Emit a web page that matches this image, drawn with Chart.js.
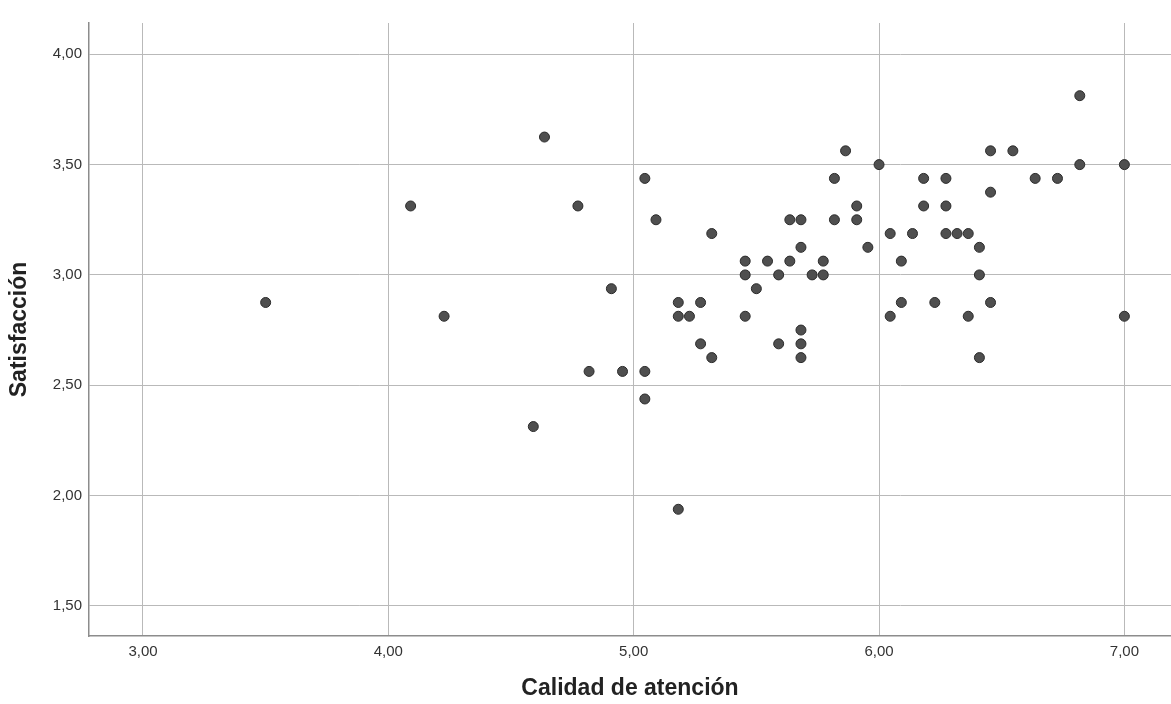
<!DOCTYPE html>
<html>
<head>
<meta charset="utf-8">
<script src="https://cdn.jsdelivr.net/npm/chart.js@4/dist/chart.umd.min.js"></script>
<style>
  html, body { margin: 0; padding: 0; background: #ffffff; }
  #wrap { width: 1171px; height: 704px; }
</style>
</head>
<body>
<div id="wrap"><canvas id="chart_scatter" width="1171" height="704"></canvas></div>
<script>
// Calidad de atención (x) / Satisfacción (y), one entry per respondent
const calidad = [
    3.5, 4.0909, 4.2273, 4.5909, 4.6364, 4.7727, 4.8182, 4.9091, 4.9545,
    5.0455, 5.0455, 5.0455, 5.0909, 5.1818, 5.1818, 5.1818, 5.2273, 5.2727,
    5.2727, 5.3182, 5.3182, 5.4545, 5.4545, 5.4545, 5.5, 5.5455, 5.5909,
    5.5909, 5.6364, 5.6364, 5.6818, 5.6818, 5.6818, 5.6818, 5.6818, 5.7273,
    5.7727, 5.7727, 5.8182, 5.8182, 5.8636, 5.9091, 5.9091, 5.9545, 6.0,
    6.0455, 6.0455, 6.0909, 6.0909, 6.1364, 6.1818, 6.1818, 6.2273, 6.2727,
    6.2727, 6.2727, 6.3182, 6.3636, 6.3636, 6.4091, 6.4091, 6.4091, 6.4545,
    6.4545, 6.4545, 6.5455, 6.6364, 6.7273, 6.8182, 6.8182, 7.0, 7.0
];
const satisfaccion = [
    2.875, 3.3125, 2.8125, 2.3125, 3.625, 3.3125, 2.5625, 2.9375, 2.5625,
    3.4375, 2.5625, 2.4375, 3.25, 2.875, 2.8125, 1.9375, 2.8125, 2.875,
    2.6875, 3.1875, 2.625, 3.0625, 3.0, 2.8125, 2.9375, 3.0625, 3.0,
    2.6875, 3.25, 3.0625, 3.25, 3.125, 2.75, 2.6875, 2.625, 3.0,
    3.0625, 3.0, 3.4375, 3.25, 3.5625, 3.3125, 3.25, 3.125, 3.5,
    3.1875, 2.8125, 3.0625, 2.875, 3.1875, 3.4375, 3.3125, 2.875, 3.4375,
    3.3125, 3.1875, 3.1875, 3.1875, 2.8125, 3.125, 3.0, 2.625, 3.5625,
    3.375, 2.875, 3.5625, 3.4375, 3.4375, 3.8125, 3.5, 3.5, 2.8125
];
const xTicks = [3, 4, 5, 6, 7];
const yTicks = [1.5, 2, 2.5, 3, 3.5, 4];

const gridColor = '#b9b9b9';
const axisColor = '#8c8c8c';
const textColor = '#333333';

const fmt = (v) => v.toFixed(2).replace('.', ',');

const points = calidad.map((x, i) => ({x: x, y: satisfaccion[i]}));

new Chart(document.getElementById('chart_scatter'), {
    type: 'scatter',
    data: {
        datasets: [{
            label: 'Satisfacción',
            data: points,
            pointRadius: 5,
            pointHoverRadius: 5,
            backgroundColor: '#4f4f4f',
            borderColor: '#2b2b2b',
            borderWidth: 1,
        }],
    },
    options: {
        responsive: false,
        animation: false,
        layout: {
            autoPadding: false,
            padding: {top: 23, right: 0, bottom: 0, left: 0},
        },
        plugins: {
            legend: {display: false},
            tooltip: {enabled: false},
        },
        scales: {
            x: {
                type: 'linear',
                min: 2.78,
                max: 7.19,
                afterBuildTicks: (scale) => { scale.ticks = xTicks.map(v => ({value: v})); },
                afterFit: (scale) => {
                    scale.height = 68;
                    // plot runs right up to the canvas edge
                    scale.paddingLeft = 0;
                    scale.paddingRight = 0;
                },
                border: {display: true, color: axisColor, width: 1.5},
                grid: {color: gridColor, lineWidth: 1, drawTicks: false},
                ticks: {
                    padding: 7,
                    color: textColor,
                    font: {family: 'Liberation Sans', size: 15},
                    callback: (v) => fmt(v),
                },
                title: {
                    display: true,
                    text: 'Calidad de atención',
                    color: '#222222',
                    padding: {top: 0, bottom: 2},
                    font: {family: 'Liberation Sans', size: 23, weight: 'bold'},
                },
            },
            y: {
                type: 'linear',
                min: 1.363,
                max: 4.142,
                afterBuildTicks: (scale) => { scale.ticks = yTicks.map(v => ({value: v})); },
                afterFit: (scale) => {
                    scale.width = 89;
                    scale.paddingTop = 0;
                    scale.paddingBottom = 0;
                },
                border: {display: true, color: axisColor, width: 1.5},
                grid: {color: gridColor, lineWidth: 1, drawTicks: false},
                ticks: {
                    padding: 7,
                    color: textColor,
                    font: {family: 'Liberation Sans', size: 15},
                    callback: (v) => fmt(v),
                },
                title: {
                    display: true,
                    text: 'Satisfacción',
                    color: '#222222',
                    padding: {top: 6, bottom: 0},
                    font: {family: 'Liberation Sans', size: 23, weight: 'bold'},
                },
            },
        },
    },
});
</script>
</body>
</html>
